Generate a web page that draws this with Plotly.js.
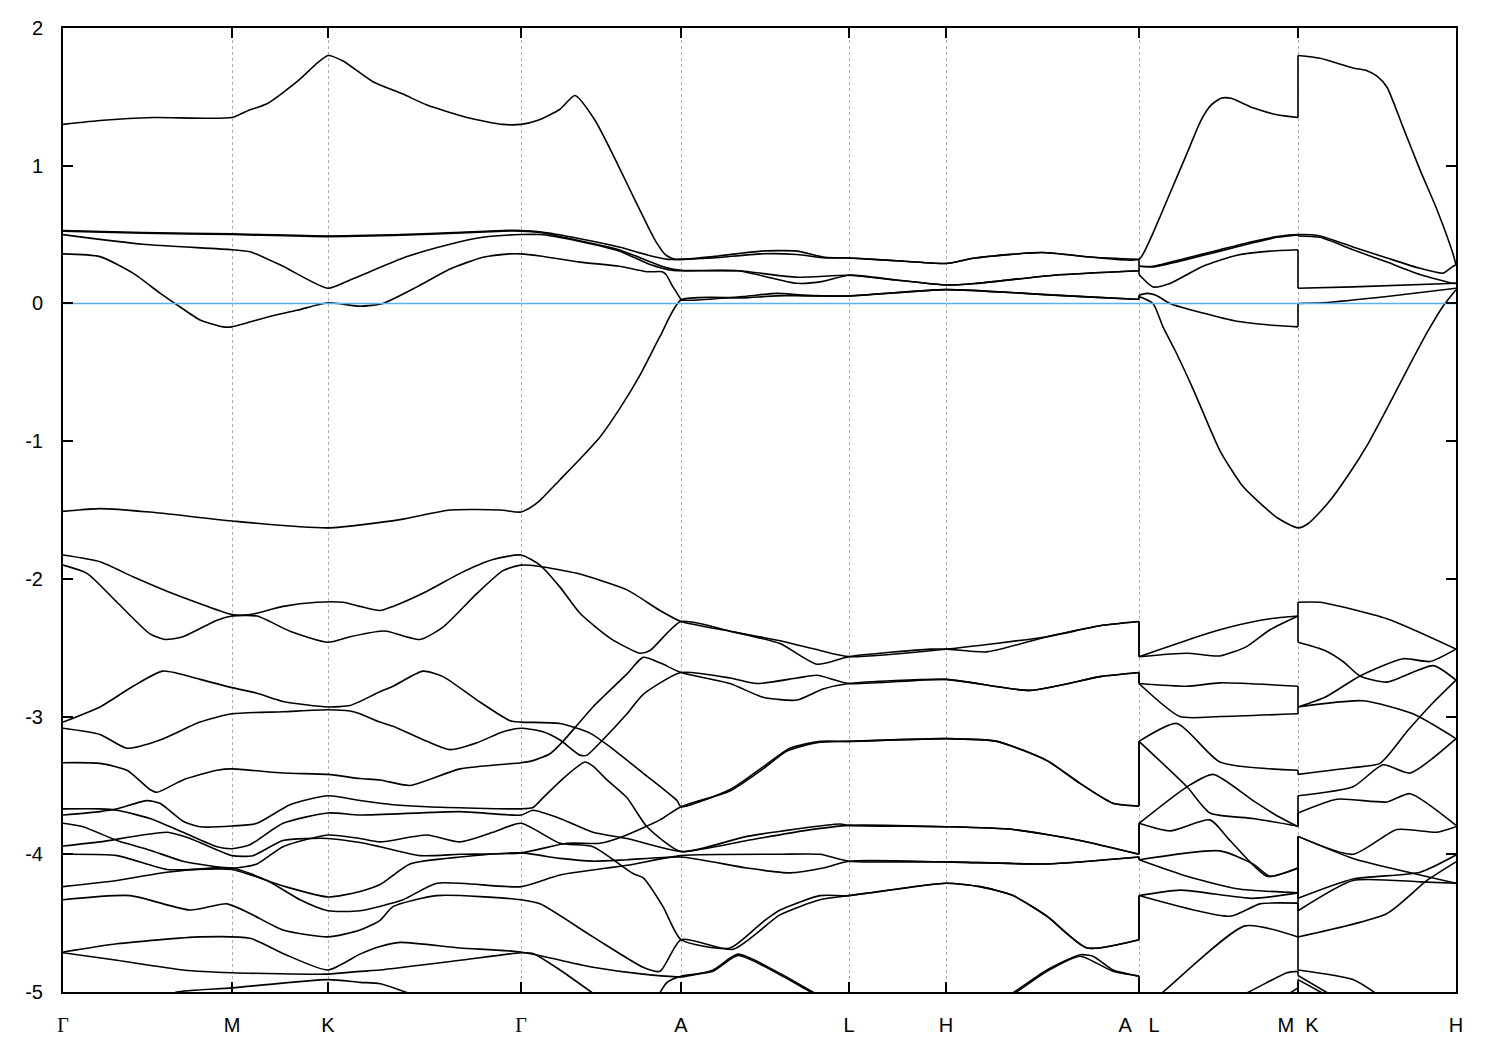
<!DOCTYPE html>
<html>
<head>
<meta charset="utf-8">
<script src="https://cdn.plot.ly/plotly-3.0.1.min.js"></script>
<style>html,body{margin:0;padding:0;background:#fff}#plot{width:1500px;height:1050px}</style>
</head>
<body>
<div id="plot"></div>
<script>
// k-path positions of high-symmetry points (arbitrary path-distance units)
const kTickVals = [0, 169, 265, 458, 618, 786, 883, 1076, 1235, 1393];
const kTickText = ['\u0393', 'M', 'K', '\u0393', 'A', 'L', 'H', 'A\u00a0\u00a0\u00a0L', 'M\u00a0\u00a0K', 'H'];
const eTickVals = [-5, -4, -3, -2, -1, 0, 1, 2];
const eTickText = ['-5', '-4', '-3', '-2', '-1', '0', '1', '2'];
const fermiLevel = 0;

// bands: [k, energy (eV)]
const bandT1 = [[0,1.30],[40,1.33],[90,1.35],[169,1.35],[185,1.40],[204,1.45],[234,1.61],[255,1.75],[265,1.80],[280,1.76],[310,1.61],[340,1.52],[364,1.44],[404,1.35],[440,1.30],[458,1.30],[475,1.33],[497,1.41],[512,1.51],[532,1.33],[556,0.99],[572,0.75],[592,0.46],[603,0.35],[612,0.32],[618,0.32],
[650,0.34],[698,0.38],[734,0.38],[762,0.335],[786,0.33],[833,0.31],[883,0.29],[912,0.33],[979,0.37],[1030,0.335],[1076,0.32],
[1083,0.40],[1090,0.51],[1107,0.80],[1124,1.09],[1138,1.33],[1148,1.44],[1158,1.49],[1168,1.49],[1190,1.42],[1214,1.37],[1235,1.35],
[1235,1.80],[1257,1.78],[1290,1.71],[1304,1.69],[1314,1.65],[1324,1.57],[1340,1.28],[1357,0.97],[1374,0.68],[1390,0.36],[1393,0.28]];

const bandU2 = [[0,0.53],[80,0.515],[169,0.505],[265,0.49],[360,0.505],[440,0.53],[458,0.53],[477,0.52],[517,0.47],[556,0.41],[588,0.345],[605,0.32],[618,0.32],
[650,0.33],[698,0.36],[734,0.355],[762,0.33],[786,0.33],[833,0.31],[883,0.29],[912,0.33],[979,0.37],[1030,0.335],[1076,0.32],
[1076,0.27],[1090,0.27],[1124,0.33],[1157,0.39],[1190,0.45],[1214,0.485],[1235,0.50],
[1257,0.49],[1290,0.41],[1324,0.33],[1357,0.255],[1380,0.22],[1390,0.27],[1393,0.28]];

const bandU3 = [[0,0.525],[80,0.51],[169,0.50],[265,0.485],[360,0.50],[440,0.525],[458,0.525],[477,0.515],[517,0.455],[556,0.39],[588,0.30],[603,0.26],[618,0.24],
[675,0.237],[734,0.146],[760,0.16],[786,0.205],[833,0.17],[883,0.134],[912,0.145],[991,0.205],[1076,0.237],
[1076,0.27],[1090,0.265],[1124,0.32],[1157,0.38],[1190,0.44],[1214,0.48],[1235,0.497],
[1235,0.49],[1257,0.48],[1290,0.39],[1324,0.30],[1357,0.21],[1390,0.146],[1393,0.146]];

const bandU4 = [[0,0.50],[80,0.43],[169,0.39],[187,0.375],[220,0.27],[265,0.11],[287,0.17],[344,0.34],[387,0.43],[420,0.48],[458,0.50],[477,0.50],[517,0.45],[556,0.38],[588,0.28],[605,0.245],[618,0.237],
[675,0.237],[734,0.19],[786,0.205],[833,0.17],[883,0.134],[912,0.145],[991,0.205],[1076,0.237],
[1076,0.21],[1090,0.12],[1107,0.145],[1140,0.27],[1174,0.35],[1207,0.38],[1235,0.39],
[1235,0.11],[1290,0.12],[1393,0.146]];

const bandF1 = [[0,0.36],[37,0.34],[70,0.22],[97,0.075],[114,-0.01],[137,-0.12],[160,-0.17],[169,-0.17],[204,-0.10],[234,-0.05],[265,0.005],[297,-0.02],[320,0.0],[354,0.12],[387,0.25],[420,0.335],[447,0.36],[458,0.36],
[477,0.345],[517,0.30],[556,0.27],[584,0.23],[599,0.23],[603,0.21],[610,0.12],[617,0.04],[618,0.025],
[680,0.05],[714,0.073],[740,0.06],[786,0.054],[883,0.10],[991,0.06],[1073,0.03],[1076,0.03],
[1076,0.06],[1084,0.073],[1093,0.06],[1107,0.0],[1140,-0.07],[1174,-0.13],[1207,-0.157],[1235,-0.17],
[1235,0.0],[1260,0.005],[1324,0.05],[1393,0.11]];

const bandF2 = [[0,-1.51],[37,-1.49],[87,-1.515],[169,-1.58],[265,-1.63],[337,-1.57],[387,-1.50],[437,-1.50],[458,-1.515],
[470,-1.47],[477,-1.43],[497,-1.28],[517,-1.13],[537,-0.97],[557,-0.76],[577,-0.52],[597,-0.24],[618,0.025],
[680,0.04],[714,0.055],[740,0.055],[786,0.054],[883,0.10],[991,0.06],[1073,0.03],[1076,0.03],
[1076,0.05],[1090,0.0],[1100,-0.17],[1112,-0.34],[1130,-0.62],[1157,-1.07],[1180,-1.33],[1197,-1.45],[1215,-1.56],[1235,-1.63],
[1245,-1.60],[1265,-1.45],[1285,-1.25],[1305,-1.02],[1325,-0.75],[1345,-0.47],[1365,-0.20],[1380,-0.02],[1393,0.10]];

const bandG1 = [[0,-1.827],[37,-1.876],[70,-1.985],[104,-2.09],[137,-2.18],[169,-2.26],[187,-2.26],[220,-2.20],[254,-2.17],[280,-2.17],[297,-2.20],[317,-2.23],[330,-2.20],[364,-2.09],[397,-1.96],[430,-1.86],[458,-1.827],
[477,-1.90],[497,-2.06],[517,-2.25],[547,-2.43],[577,-2.54],[587,-2.52],[618,-2.31],
[667,-2.38],[717,-2.47],[754,-2.62],[786,-2.565],[867,-2.51],[883,-2.51],[924,-2.53],[984,-2.42],[1037,-2.34],[1076,-2.31],
[1076,-2.565],[1124,-2.445],[1167,-2.35],[1207,-2.29],[1235,-2.27],
[1235,-2.17],[1257,-2.17],[1324,-2.29],[1393,-2.51]];

const bandG2 = [[0,-1.90],[24,-1.96],[54,-2.17],[87,-2.40],[102,-2.44],[120,-2.42],[154,-2.30],[169,-2.27],[194,-2.27],[227,-2.38],[265,-2.46],[287,-2.42],[317,-2.38],[324,-2.38],[357,-2.44],[380,-2.35],[414,-2.105],[440,-1.94],[458,-1.90],
[477,-1.91],[514,-1.96],[564,-2.08],[597,-2.23],[618,-2.31],
[667,-2.38],[717,-2.45],[757,-2.52],[786,-2.565],[883,-2.51],[984,-2.42],[1037,-2.34],[1076,-2.31],
[1076,-2.565],[1124,-2.54],[1157,-2.56],[1184,-2.49],[1207,-2.37],[1235,-2.27],
[1235,-2.46],[1262,-2.52],[1280,-2.60],[1297,-2.705],[1324,-2.75],[1370,-2.63],[1393,-2.735]];

const bandH1 = [[0,-3.04],[37,-2.93],[70,-2.78],[100,-2.67],[137,-2.73],[169,-2.79],[194,-2.83],[220,-2.89],[265,-2.93],[287,-2.92],[297,-2.89],[317,-2.82],[330,-2.78],[360,-2.67],[380,-2.71],[414,-2.88],[447,-3.03],[458,-3.04],
[497,-3.05],[527,-3.12],[547,-3.22],[580,-3.41],[614,-3.61],[618,-3.655],
[667,-3.53],[700,-3.365],[727,-3.23],[757,-3.18],[786,-3.18],[883,-3.16],[934,-3.18],[984,-3.32],[1017,-3.485],[1050,-3.63],[1076,-3.65],
[1076,-3.18],[1114,-3.05],[1157,-3.33],[1235,-3.39],
[1235,-3.42],[1290,-3.37],[1317,-3.34],[1345,-3.10],[1370,-2.90],[1393,-2.735]];

const bandH2 = [[0,-3.085],[37,-3.13],[64,-3.23],[97,-3.17],[137,-3.04],[169,-2.98],[220,-2.965],[265,-2.95],[287,-2.96],[297,-2.98],[317,-3.04],[330,-3.07],[364,-3.18],[387,-3.24],[414,-3.19],[440,-3.11],[458,-3.085],
[480,-3.11],[497,-3.17],[517,-3.28],[524,-3.28],[537,-3.19],[564,-2.98],[580,-2.84],[618,-2.68],
[667,-2.72],[694,-2.76],[734,-2.72],[754,-2.70],[786,-2.76],[883,-2.73],[967,-2.81],[1037,-2.71],[1076,-2.68],
[1076,-2.76],[1124,-2.78],[1157,-2.755],[1235,-2.78],
[1235,-2.93],[1262,-2.86],[1297,-2.705],[1340,-2.58],[1367,-2.60],[1393,-2.51]];

const bandH4 = [[0,-3.335],[37,-3.34],[64,-3.39],[87,-3.53],[94,-3.55],[120,-3.46],[154,-3.39],[169,-3.38],[220,-3.41],[265,-3.42],[297,-3.45],[317,-3.46],[347,-3.50],[397,-3.38],[458,-3.335],
[470,-3.32],[487,-3.27],[500,-3.18],[530,-2.93],[564,-2.69],[580,-2.57],[597,-2.61],[618,-2.68],
[667,-2.76],[700,-2.86],[734,-2.88],[760,-2.80],[786,-2.76],[883,-2.73],[967,-2.81],[1037,-2.71],[1076,-2.68],
[1076,-2.76],[1117,-3.0],[1157,-3.0],[1235,-2.98],
[1235,-2.93],[1300,-2.885],[1350,-2.98],[1393,-3.16]];

const bandLa = [[0,-3.715],[37,-3.69],[54,-3.67],[84,-3.61],[97,-3.63],[120,-3.76],[137,-3.80],[169,-3.795],[194,-3.775],[227,-3.64],[265,-3.575],[297,-3.61],[330,-3.64],[364,-3.655],[458,-3.67],
[470,-3.66],[480,-3.59],[500,-3.45],[522,-3.33],[530,-3.36],[544,-3.46],[564,-3.59],[584,-3.80],[618,-3.98],
[684,-3.87],[777,-3.78],[786,-3.79],[883,-3.80],[950,-3.82],[1017,-3.90],[1076,-4.0],
[1076,-3.775],[1124,-3.51],[1150,-3.42],[1190,-3.61],[1214,-3.72],[1235,-3.80],
[1235,-3.70],[1274,-3.60],[1324,-3.62],[1347,-3.56],[1393,-3.79]];

const bandLb = [[0,-3.67],[37,-3.67],[54,-3.68],[87,-3.74],[120,-3.84],[154,-3.945],[169,-3.96],[187,-3.93],[220,-3.775],[265,-3.70],[297,-3.715],[397,-3.69],[458,-3.715],
[470,-3.68],[497,-3.74],[530,-3.84],[564,-3.885],[618,-3.98],
[684,-3.90],[740,-3.83],[786,-3.79],[883,-3.80],[950,-3.82],[1017,-3.90],[1076,-4.0],
[1076,-3.775],[1107,-3.83],[1147,-3.75],[1167,-3.90],[1204,-4.16],[1235,-4.10],
[1235,-3.87],[1290,-4.0],[1334,-3.82],[1374,-3.84],[1393,-3.80]];

const bandLc = [[0,-3.775],[20,-3.80],[54,-3.90],[87,-3.97],[120,-4.05],[169,-4.10],[194,-4.07],[220,-3.945],[265,-3.86],[297,-3.885],[317,-3.91],[364,-3.86],[397,-3.91],[430,-3.84],[458,-3.775],
[497,-3.92],[530,-3.945],[570,-4.14],[580,-4.17],[600,-4.38],[618,-4.62],
[667,-4.68],[700,-4.49],[717,-4.405],[757,-4.30],[786,-4.30],[883,-4.21],[917,-4.235],[950,-4.30],[984,-4.45],[1024,-4.68],[1076,-4.62],
[1076,-4.30],[1167,-4.45],[1197,-4.36],[1235,-4.355],
[1235,-4.60],[1324,-4.43],[1364,-4.19],[1393,-4.055]];

const bandLd = [[0,-3.94],[37,-3.91],[104,-3.84],[127,-3.885],[169,-4.01],[190,-4.01],[220,-3.90],[265,-3.885],[297,-3.915],[317,-3.945],[357,-4.01],[397,-4.00],[458,-3.99],
[504,-3.92],[537,-3.92],[560,-3.87],[597,-3.75],[618,-3.655],
[667,-3.54],[700,-3.38],[724,-3.25],[754,-3.19],[786,-3.18],[883,-3.16],[934,-3.18],[984,-3.32],[1017,-3.485],[1050,-3.63],[1076,-3.65],
[1076,-3.18],[1124,-3.51],[1147,-3.70],[1190,-3.74],[1235,-3.795],
[1235,-3.575],[1290,-3.51],[1320,-3.35],[1347,-3.41],[1393,-3.16]];

const bandLe = [[0,-4.00],[54,-4.01],[104,-4.11],[169,-4.11],[220,-4.23],[265,-4.31],[297,-4.27],[317,-4.22],[347,-4.07],[397,-4.02],[458,-3.99],
[497,-4.03],[530,-4.05],[564,-4.04],[618,-4.02],
[684,-4.10],[727,-4.135],[760,-4.10],[786,-4.05],[883,-4.055],[984,-4.07],[1076,-4.02],
[1076,-4.04],[1157,-3.975],[1190,-4.07],[1207,-4.16],[1235,-4.10],
[1235,-4.32],[1290,-4.18],[1357,-4.13],[1393,-4.005]];

const bandLf = [[0,-4.235],[54,-4.19],[104,-4.13],[169,-4.10],[204,-4.19],[237,-4.33],[265,-4.41],[297,-4.41],[340,-4.33],[374,-4.21],[458,-4.235],
[497,-4.15],[564,-4.08],[618,-4.01],
[717,-4.0],[757,-4.0],[786,-4.05],[883,-4.055],[984,-4.07],[1076,-4.02],
[1076,-4.04],[1124,-4.16],[1174,-4.25],[1235,-4.28],
[1235,-3.87],[1290,-4.03],[1357,-4.15],[1393,-4.21]];

const bandLg = [[0,-4.33],[67,-4.30],[127,-4.405],[164,-4.36],[187,-4.43],[220,-4.55],[265,-4.60],[297,-4.55],[317,-4.48],[330,-4.38],[374,-4.30],[458,-4.33],
[477,-4.36],[530,-4.60],[580,-4.82],[597,-4.85],[618,-4.62],
[670,-4.69],[717,-4.44],[757,-4.33],[786,-4.30],[883,-4.21],[917,-4.235],[950,-4.30],[984,-4.45],[1024,-4.68],[1076,-4.62],
[1076,-4.30],[1117,-4.26],[1190,-4.32],[1235,-4.28],
[1235,-4.41],[1290,-4.19],[1357,-4.20],[1393,-4.21]];

const bandLh = [[0,-4.71],[54,-4.65],[137,-4.60],[187,-4.61],[220,-4.72],[265,-4.84],[297,-4.725],[317,-4.67],[337,-4.64],[397,-4.68],[458,-4.71],
[530,-4.82],[580,-4.87],[618,-4.89],
[650,-4.84],[675,-4.725],[717,-4.865],[757,-5.03],[800,-5.2],[900,-5.2],[945,-5.03],[984,-4.84],[1017,-4.73],[1030,-4.74],[1050,-4.84],[1076,-4.885],
[1076,-5.14],[1100,-5.0],[1182,-4.52],[1235,-4.60],
[1235,-4.84],[1290,-4.91],[1317,-5.03]];

const bandLm = [[595,-5.03],[604,-4.93],[618,-4.885],
[650,-4.85],[675,-4.735],[717,-4.875],[755,-5.03],[800,-5.2],[900,-5.2],[947,-5.03],[984,-4.85],[1017,-4.74],[1050,-4.85],[1076,-4.885],
[1076,-5.3],[1180,-5.02],[1224,-4.86],[1235,-4.85],
[1235,-4.88],[1270,-5.03]];

const bandLi = [[0,-4.715],[54,-4.77],[120,-4.84],[169,-4.86],[265,-4.87],[297,-4.85],[317,-4.84],[397,-4.77],[458,-4.715],
[470,-4.72],[497,-4.84],[534,-5.03]];

const bandLj = [[105,-5.03],[114,-5.0],[169,-4.97],[265,-4.91],[297,-4.93],[317,-4.94],[354,-5.03]];

const bandLk = [[1222,-5.03],[1235,-4.97],[1235,-4.91],[1265,-5.03]];

const allBands = [bandT1, bandU2, bandU3, bandU4, bandF1, bandF2, bandG1, bandG2, bandH1, bandH2, bandH4,
  bandLa, bandLb, bandLc, bandLd, bandLe, bandLf, bandLg, bandLh, bandLm, bandLi, bandLj, bandLk];

// split each band into smooth pieces at path discontinuities (repeated k),
// and draw the discontinuity jumps as straight vertical connectors
const traces = [];
const lineStyle = {color: '#000000', width: 1.6};
allBands.forEach(b => {
  let piece = [b[0]];
  const flush = () => {
    if (piece.length > 1) {
      traces.push({
        x: piece.map(p => p[0]), y: piece.map(p => p[1]),
        type: 'scatter', mode: 'lines',
        line: Object.assign({shape: 'spline', smoothing: 0.6}, lineStyle),
        hoverinfo: 'skip', showlegend: false
      });
    }
  };
  for (let i = 1; i < b.length; i++) {
    if (b[i][0] === b[i - 1][0]) {
      flush();
      traces.push({
        x: [b[i - 1][0], b[i][0]], y: [b[i - 1][1], b[i][1]],
        type: 'scatter', mode: 'lines', line: lineStyle,
        hoverinfo: 'skip', showlegend: false
      });
      piece = [b[i]];
    } else {
      piece.push(b[i]);
    }
  }
  flush();
});

traces.push({
  x: [kTickVals[0], kTickVals[kTickVals.length - 1]],
  y: [fermiLevel, fermiLevel],
  type: 'scatter', mode: 'lines',
  line: {color: '#56b4e9', width: 1.6},
  hoverinfo: 'skip', showlegend: false
});

const tickText = kTickText.map(t => t === '\u0393'
  ? '<span style="font-family:Liberation Serif">\u0393</span>' : t);

const layout = {
  width: 1500, height: 1050,
  paper_bgcolor: '#ffffff', plot_bgcolor: '#ffffff',
  margin: {l: 63, r: 44, t: 28, b: 58, pad: 0},
  font: {family: 'Liberation Sans, Arial, sans-serif', size: 20, color: '#000000'},
  xaxis: {
    range: [kTickVals[0], kTickVals[kTickVals.length - 1]],
    tickmode: 'array', tickvals: kTickVals, ticktext: tickText,
    ticks: 'inside', ticklen: 10, tickwidth: 2, tickcolor: '#000',
    showline: true, linecolor: '#000', linewidth: 2, mirror: 'allticks',
    showgrid: true, gridcolor: '#b0b0b0', gridwidth: 1, griddash: '3px,3px',
    zeroline: false, ticklabelstandoff: 14,
    tickfont: {size: 20, family: 'Liberation Sans, Arial, sans-serif'}
  },
  yaxis: {
    range: [-5, 2],
    tickmode: 'array', tickvals: eTickVals, ticktext: eTickText,
    ticks: 'inside', ticklen: 10, tickwidth: 2, tickcolor: '#000',
    showline: true, linecolor: '#000', linewidth: 2, mirror: 'allticks',
    showgrid: false, zeroline: false, ticklabelstandoff: 14,
    tickfont: {size: 20, family: 'Liberation Sans, Arial, sans-serif'}
  }
};

Plotly.newPlot('plot', traces, layout, {staticPlot: true, displayModeBar: false});
</script>
</body>
</html>
